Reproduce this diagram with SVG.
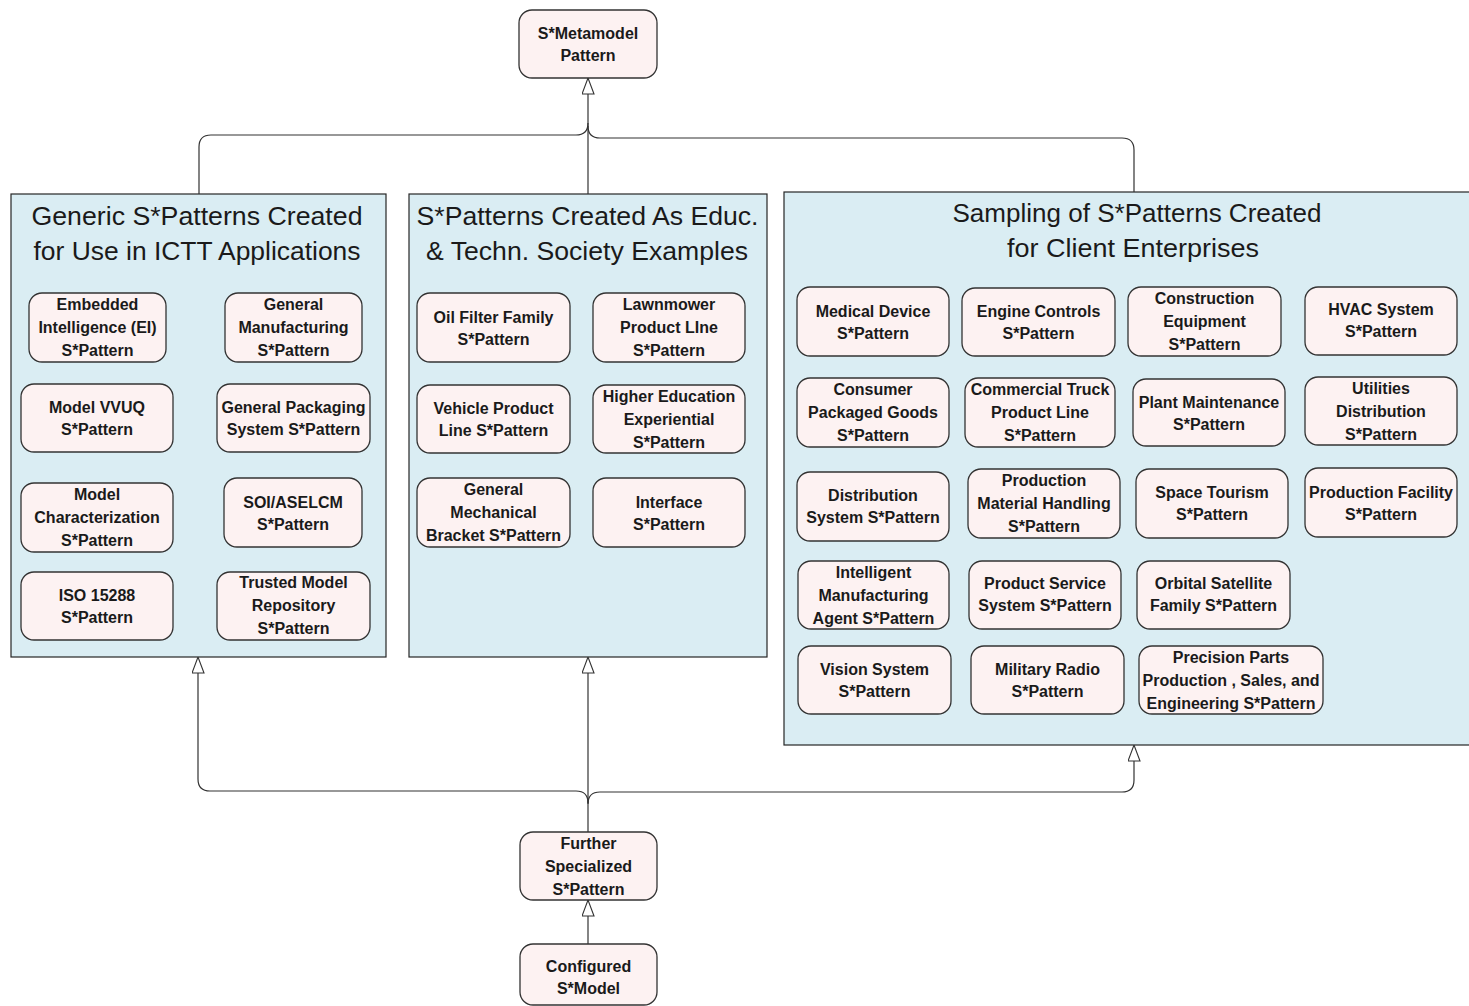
<svg xmlns="http://www.w3.org/2000/svg" width="1469" height="1006" viewBox="0 0 1469 1006">
<style>
.bg{fill:#ffffff}
.panel{fill:#daedf3;stroke:#262626;stroke-width:1.2}
.node{fill:#fdf2f2;stroke:#333333;stroke-width:1.3}
.nt{font-family:"Liberation Sans",Arial,sans-serif;font-weight:bold;font-size:16px;fill:#1a1a1a;text-anchor:middle}
.tt{font-family:"Liberation Sans",Arial,sans-serif;font-size:26px;fill:#1a1a1a;text-anchor:middle}
.conn{fill:none;stroke:#333333;stroke-width:1.2}
</style>
<defs>
<marker id="gen" viewBox="0 0 17 13" refX="16.5" refY="6.5" markerWidth="17" markerHeight="13" markerUnits="userSpaceOnUse" orient="auto">
<path d="M0.5,0.5 L16.5,6.5 L0.5,12.5 Z" fill="#ffffff" stroke="#333333" stroke-width="1.1"/>
</marker>
</defs>
<rect class="bg" x="0" y="0" width="1469" height="1006"/>

<g id="panel-generic">
<rect class="panel" x="11" y="194" width="375" height="463"/>
<text class="tt" x="197" y="225" textLength="331" lengthAdjust="spacingAndGlyphs">Generic S*Patterns Created</text>
<text class="tt" x="197" y="260" textLength="327" lengthAdjust="spacingAndGlyphs">for Use in ICTT Applications</text>
</g>
<g id="panel-educ">
<rect class="panel" x="409" y="194" width="358" height="463"/>
<text class="tt" x="587.5" y="225" textLength="342" lengthAdjust="spacingAndGlyphs">S*Patterns Created As Educ.</text>
<text class="tt" x="587" y="260" textLength="322" lengthAdjust="spacingAndGlyphs">&amp; Techn. Society Examples</text>
</g>
<g id="panel-client">
<rect class="panel" x="784" y="192" width="700" height="553"/>
<text class="tt" x="1137" y="222" textLength="369" lengthAdjust="spacingAndGlyphs">Sampling of S*Patterns Created</text>
<text class="tt" x="1133" y="257" textLength="252" lengthAdjust="spacingAndGlyphs">for Client Enterprises</text>
</g>

<g id="connectors">
<path class="conn" d="M588,194 V78" marker-end="url(#gen)"/>
<path class="conn" d="M199,194 V147 Q199,135 211,135 H576 Q588,135 588,123"/>
<path class="conn" d="M1134,192 V150 Q1134,138 1122,138 H600 Q588,138 588,126"/>
<path class="conn" d="M588,832 V657" marker-end="url(#gen)"/>
<path class="conn" d="M588,803 Q588,791 576,791 H210 Q198,791 198,779 V657" marker-end="url(#gen)"/>
<path class="conn" d="M588,804 Q588,792 600,792 H1122 Q1134,792 1134,780 V745" marker-end="url(#gen)"/>
<path class="conn" d="M588,944 V900" marker-end="url(#gen)"/>
</g>

<g id="n-metamodel"><rect class="node" x="519" y="10" width="138" height="68" rx="13"/>
<text class="nt" x="588" y="39">S*Metamodel<tspan x="588" dy="22">Pattern</tspan></text></g>

<g id="n-ei"><rect class="node" x="29" y="293" width="137" height="69" rx="13"/>
<text class="nt" x="97.5" y="309.5">Embedded<tspan x="97.5" dy="23">Intelligence (EI)</tspan><tspan x="97.5" dy="23">S*Pattern</tspan></text></g>
<g id="n-genmfg"><rect class="node" x="225" y="293" width="137" height="69" rx="13"/>
<text class="nt" x="293.5" y="309.5">General<tspan x="293.5" dy="23">Manufacturing</tspan><tspan x="293.5" dy="23">S*Pattern</tspan></text></g>
<g id="n-vvuq"><rect class="node" x="21" y="384" width="152" height="68" rx="13"/>
<text class="nt" x="97" y="413">Model VVUQ<tspan x="97" dy="22">S*Pattern</tspan></text></g>
<g id="n-genpack"><rect class="node" x="217" y="384" width="153" height="68" rx="13"/>
<text class="nt" x="293.5" y="413">General Packaging<tspan x="293.5" dy="22">System S*Pattern</tspan></text></g>
<g id="n-modchar"><rect class="node" x="21" y="483" width="152" height="69" rx="13"/>
<text class="nt" x="97" y="499.5">Model<tspan x="97" dy="23">Characterization</tspan><tspan x="97" dy="23">S*Pattern</tspan></text></g>
<g id="n-soi"><rect class="node" x="224" y="478" width="138" height="69" rx="13"/>
<text class="nt" x="293" y="507.5">SOI/ASELCM<tspan x="293" dy="22">S*Pattern</tspan></text></g>
<g id="n-iso"><rect class="node" x="21" y="572" width="152" height="68" rx="13"/>
<text class="nt" x="97" y="601">ISO 15288<tspan x="97" dy="22">S*Pattern</tspan></text></g>
<g id="n-trusted"><rect class="node" x="217" y="572" width="153" height="68" rx="13"/>
<text class="nt" x="293.5" y="588">Trusted Model<tspan x="293.5" dy="23">Repository</tspan><tspan x="293.5" dy="23">S*Pattern</tspan></text></g>

<g id="n-oil"><rect class="node" x="417" y="293" width="153" height="69" rx="13"/>
<text class="nt" x="493.5" y="322.5">Oil Filter Family<tspan x="493.5" dy="22">S*Pattern</tspan></text></g>
<g id="n-lawn"><rect class="node" x="593" y="293" width="152" height="69" rx="13"/>
<text class="nt" x="669" y="309.5">Lawnmower<tspan x="669" dy="23">Product LIne</tspan><tspan x="669" dy="23">S*Pattern</tspan></text></g>
<g id="n-vehicle"><rect class="node" x="417" y="385" width="153" height="68" rx="13"/>
<text class="nt" x="493.5" y="414">Vehicle Product<tspan x="493.5" dy="22">Line S*Pattern</tspan></text></g>
<g id="n-higher"><rect class="node" x="593" y="385" width="152" height="68" rx="13"/>
<text class="nt" x="669" y="401.5">Higher Education<tspan x="669" dy="23">Experiential</tspan><tspan x="669" dy="23">S*Pattern</tspan></text></g>
<g id="n-bracket"><rect class="node" x="417" y="478" width="153" height="69" rx="13"/>
<text class="nt" x="493.5" y="494.5">General<tspan x="493.5" dy="23">Mechanical</tspan><tspan x="493.5" dy="23">Bracket S*Pattern</tspan></text></g>
<g id="n-interface"><rect class="node" x="593" y="478" width="152" height="69" rx="13"/>
<text class="nt" x="669" y="507.5">Interface<tspan x="669" dy="22">S*Pattern</tspan></text></g>

<g id="n-medical"><rect class="node" x="797" y="287" width="152" height="69" rx="13"/>
<text class="nt" x="873" y="316.5">Medical Device<tspan x="873" dy="22">S*Pattern</tspan></text></g>
<g id="n-engine"><rect class="node" x="962" y="288" width="153" height="68" rx="13"/>
<text class="nt" x="1038.5" y="316.5">Engine Controls<tspan x="1038.5" dy="22">S*Pattern</tspan></text></g>
<g id="n-construction"><rect class="node" x="1128" y="287" width="153" height="69" rx="13"/>
<text class="nt" x="1204.5" y="303.5">Construction<tspan x="1204.5" dy="23">Equipment</tspan><tspan x="1204.5" dy="23">S*Pattern</tspan></text></g>
<g id="n-hvac"><rect class="node" x="1305" y="287" width="152" height="68" rx="13"/>
<text class="nt" x="1381" y="314.5">HVAC System<tspan x="1381" dy="22">S*Pattern</tspan></text></g>

<g id="n-consumer"><rect class="node" x="797" y="378" width="152" height="69" rx="13"/>
<text class="nt" x="873" y="395">Consumer<tspan x="873" dy="23">Packaged Goods</tspan><tspan x="873" dy="23">S*Pattern</tspan></text></g>
<g id="n-truck"><rect class="node" x="965" y="378" width="150" height="69" rx="13"/>
<text class="nt" x="1040" y="395">Commercial Truck<tspan x="1040" dy="23">Product Line</tspan><tspan x="1040" dy="23">S*Pattern</tspan></text></g>
<g id="n-plant"><rect class="node" x="1133" y="379" width="152" height="67" rx="13"/>
<text class="nt" x="1209" y="407.5">Plant Maintenance<tspan x="1209" dy="22">S*Pattern</tspan></text></g>
<g id="n-utilities"><rect class="node" x="1305" y="377" width="152" height="68" rx="13"/>
<text class="nt" x="1381" y="393.5">Utilities<tspan x="1381" dy="23">Distribution</tspan><tspan x="1381" dy="23">S*Pattern</tspan></text></g>

<g id="n-distribution"><rect class="node" x="797" y="472" width="152" height="69" rx="13"/>
<text class="nt" x="873" y="500.5">Distribution<tspan x="873" dy="22">System S*Pattern</tspan></text></g>
<g id="n-pmh"><rect class="node" x="968" y="469" width="152" height="69" rx="13"/>
<text class="nt" x="1044" y="486">Production<tspan x="1044" dy="23">Material Handling</tspan><tspan x="1044" dy="23">S*Pattern</tspan></text></g>
<g id="n-space"><rect class="node" x="1136" y="469" width="152" height="69" rx="13"/>
<text class="nt" x="1212" y="497.5">Space Tourism<tspan x="1212" dy="22">S*Pattern</tspan></text></g>
<g id="n-facility"><rect class="node" x="1305" y="468" width="152" height="69" rx="13"/>
<text class="nt" x="1381" y="497.5">Production Facility<tspan x="1381" dy="22">S*Pattern</tspan></text></g>

<g id="n-ima"><rect class="node" x="798" y="561" width="151" height="68" rx="13"/>
<text class="nt" x="873.5" y="577.5">Intelligent<tspan x="873.5" dy="23">Manufacturing</tspan><tspan x="873.5" dy="23">Agent S*Pattern</tspan></text></g>
<g id="n-pss"><rect class="node" x="969" y="561" width="152" height="68" rx="13"/>
<text class="nt" x="1045" y="589">Product Service<tspan x="1045" dy="22">System S*Pattern</tspan></text></g>
<g id="n-orbital"><rect class="node" x="1137" y="561" width="153" height="68" rx="13"/>
<text class="nt" x="1213.5" y="589">Orbital Satellite<tspan x="1213.5" dy="22">Family S*Pattern</tspan></text></g>

<g id="n-vision"><rect class="node" x="798" y="646" width="153" height="68" rx="13"/>
<text class="nt" x="874.5" y="675">Vision System<tspan x="874.5" dy="22">S*Pattern</tspan></text></g>
<g id="n-radio"><rect class="node" x="971" y="646" width="153" height="68" rx="13"/>
<text class="nt" x="1047.5" y="675">Military Radio<tspan x="1047.5" dy="22">S*Pattern</tspan></text></g>
<g id="n-precision"><rect class="node" x="1139" y="646" width="184" height="68" rx="13"/>
<text class="nt" x="1231" y="662.5">Precision Parts<tspan x="1231" dy="23">Production , Sales, and</tspan><tspan x="1231" dy="23">Engineering S*Pattern</tspan></text></g>

<g id="n-further"><rect class="node" x="520" y="832" width="137" height="68" rx="13"/>
<text class="nt" x="588.5" y="848.5">Further<tspan x="588.5" dy="23">Specialized</tspan><tspan x="588.5" dy="23">S*Pattern</tspan></text></g>
<g id="n-configured"><rect class="node" x="520" y="944" width="137" height="61" rx="13"/>
<text class="nt" x="588.5" y="972">Configured<tspan x="588.5" dy="22">S*Model</tspan></text></g>
</svg>
